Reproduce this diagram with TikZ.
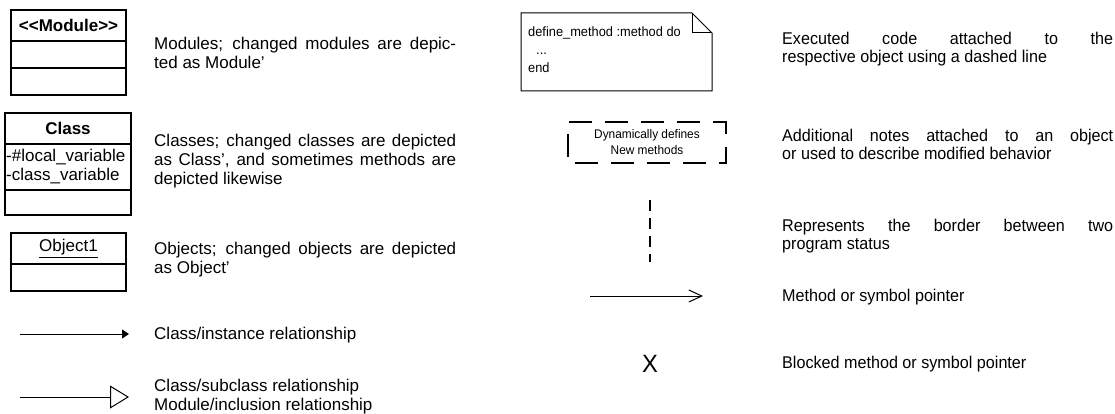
\documentclass[tikz,border=0pt]{standalone}
\usepackage{fontspec}
\setmainfont{Liberation Sans}[Ligatures=TeXOff]
\newfontfamily\narrowfont{Liberation Sans}[FakeStretch=0.95,Ligatures=TeXOff]
\usetikzlibrary{arrows.meta}

\tikzset{
	umlbox/.style={line width=1.3pt, black},
	notebox/.style={line width=1pt, black},
	dashbox/.style={line width=1.5pt, black, dash pattern=on 23pt off 13pt},
	dashline/.style={line width=1.5pt, black, dash pattern=on 11pt off 7pt},
	boxtitle/.style={inner sep=0pt, font=\bfseries\fontsize{17}{19}\selectfont},
	attr/.style={anchor=west, inner sep=0pt, font=\fontsize{17}{19}\selectfont},
	desc/.style={anchor=west, inner sep=0pt, text width=302pt, align=justify, font=\fontsize{17}{19}\selectfont},
	descr/.style={desc, text width=331pt, font=\narrowfont\fontsize{17}{18}\selectfont},
	code/.style={anchor=west, inner sep=0pt, align=left, font=\narrowfont\fontsize{13.5}{18}\selectfont},
	smalltext/.style={inner sep=0pt, align=center, font=\narrowfont\fontsize{12.5}{16}\selectfont}
}

\begin{document}
\begin{tikzpicture}[x=1pt, y=-1pt]
	\useasboundingbox (0,0) rectangle (1115,414);
	% module, class and object boxes
	\draw[umlbox] (11,10) rectangle (126,95);
	\draw[umlbox] (11,41) -- (126,41) (11,68) -- (126,68);
	\node[boxtitle] (module) at (68.5,25.5) {<<Module>>};
	\draw[umlbox] (5,113) rectangle (131,215);
	\draw[umlbox] (5,144) -- (131,144) (5,190) -- (131,190);
	\node[boxtitle] (class) at (68,128.5) {Class};
	\node[attr] (localvar) at (6,157) {-\#local\_variable};
	\node[attr] (classvar) at (6,176) {-class\_variable};
	\draw[umlbox] (11,233) rectangle (126,291);
	\draw[umlbox] (11,264) -- (126,264);
	\node[inner sep=0pt, font=\fontsize{17}{19}\selectfont] (object) at (68.5,248.5) {\underline{Object1}};
	% relationship arrows
	\coordinate (inst-a) at (20,334);
	\coordinate (inst-b) at (129,334);
	\draw[line width=1pt, -{Triangle[length=7pt,width=9pt]}] (inst-a) -- (inst-b);
	\coordinate (sub-a) at (20,397);
	\coordinate (sub-b) at (129,397);
	\draw[line width=1pt, -{Triangle[open,length=19pt,width=23pt,fill=white]}] (sub-a) -- (sub-b);
	% left descriptions
	\node[desc] (module-txt) at (154,52.5) {Modules; changed modules are depic-\linebreak ted as Module’};
	\node[desc] (class-txt) at (154,161) {Classes; changed classes are depicted\linebreak as Class’, and sometimes methods are\linebreak depicted likewise};
	\node[desc] (object-txt) at (154,260) {Objects; changed objects are depicted\linebreak as Object’};
	\node[desc] (inst-txt) at (154,335) {Class/instance relationship};
	\node[desc] (sub-txt) at (154,397) {Class/subclass relationship\\Module/inclusion relationship};
	% note, comment, border, pointer
	\draw[notebox] (521,13) -- (692,13) -- (712,33) -- (712,91) -- (521,91) -- cycle;
	\draw[notebox] (692,13) -- (692,33) -- (712,33);
	\node[code] (code) at (528,50) {define\_method :method do\\\hspace*{8pt}...\\end};
	\draw[dashbox] (715,122) -- (726,122) -- (726,163) -- (568,163) -- (568,122) -- cycle;
	\node[smalltext] (dyn) at (647,142.5) {Dynamically defines\\New methods};
	\coordinate (border-a) at (650,200);
	\coordinate (border-b) at (650,262);
	\draw[dashline] (border-a) -- (border-b);
	\coordinate (ptr-a) at (590,296);
	\coordinate (ptr-b) at (703,296);
	\draw[line width=1pt, -{Straight Barb[length=13pt,width=12pt]}] (ptr-a) -- (ptr-b);
	\node[inner sep=0pt, font=\narrowfont\fontsize{25}{25}\selectfont] (blocked) at (650,364) {X};
	% right descriptions
	\node[descr] (code-txt) at (782,49) {Executed code attached to the\linebreak respective object using a dashed line};
	\node[descr] (note-txt) at (782,144) {Additional notes attached to an object\linebreak or used to describe modified behavior};
	\node[descr] (border-txt) at (782,236) {Represents the border between two\linebreak program status};
	\node[descr] (ptr-txt) at (782,297) {Method or symbol pointer};
	\node[descr] (blocked-txt) at (782,364) {Blocked method or symbol pointer};
\end{tikzpicture}
\end{document}
